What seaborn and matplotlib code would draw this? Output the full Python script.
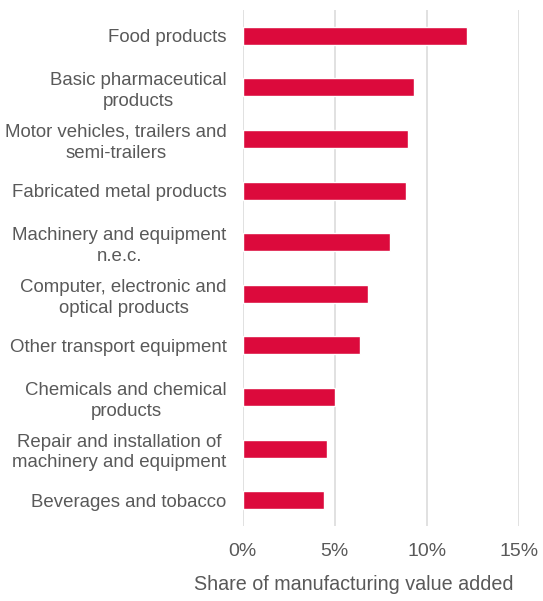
import matplotlib
matplotlib.use("Agg")
import matplotlib.pyplot as plt
import seaborn as sns
import pandas as pd

categories = [
    "Food products",
    "Basic pharmaceutical\nproducts",
    "Motor vehicles, trailers and\nsemi-trailers",
    "Fabricated metal products",
    "Machinery and equipment\nn.e.c.",
    "Computer, electronic and\noptical products",
    "Other transport equipment",
    "Chemicals and chemical\nproducts",
    "Repair and installation of\nmachinery and equipment",
    "Beverages and tobacco",
]
share_pct = [12.2, 9.3, 9.0, 8.9, 8.0, 6.8, 6.4, 5.0, 4.6, 4.4]
x_ticks = [0, 5, 10, 15]
x_tick_labels = ["0%", "5%", "10%", "15%"]
x_title = "Share of manufacturing value added"

df = pd.DataFrame({"sector": categories, "share": share_pct})

sns.set_theme(style="white")
plt.rcParams["font.family"] = ["Liberation Sans", "DejaVu Sans"]

text_grey = "#595959"
bar_red = "#DC0A3C"

fig = plt.figure(figsize=(5.43, 6.01), dpi=100)
ax = fig.add_axes([0.447, 0.1248, 0.5083, 0.8586])

sns.barplot(data=df, x="share", y="sector", orient="h", color=bar_red,
            saturation=1, width=0.35, ax=ax, zorder=3)

ax.set_xlim(0, 15)
ax.set_xticks(x_ticks)
ax.set_xticklabels(x_tick_labels)
ax.xaxis.grid(True, color="#D9D9D9", linewidth=1.1, zorder=0)
ax.yaxis.grid(False)
ax.set_axisbelow(True)
for s in ax.spines.values():
    s.set_visible(False)

ax.set_xlabel("")
ax.set_ylabel("")
ax.tick_params(axis="x", length=0, pad=12, labelsize=14, labelcolor=text_grey)
ax.tick_params(axis="y", length=0, pad=11.5, labelsize=13.4, labelcolor=text_grey)
for lbl in ax.get_yticklabels():
    lbl.set_multialignment("center")
    lbl.set_linespacing(1.3)

fig.text(354 / 543, 1 - 585 / 601, x_title, ha="center", va="center",
         fontsize=14.2, color=text_grey)

fig.savefig("out.png", dpi=100, facecolor="white")
